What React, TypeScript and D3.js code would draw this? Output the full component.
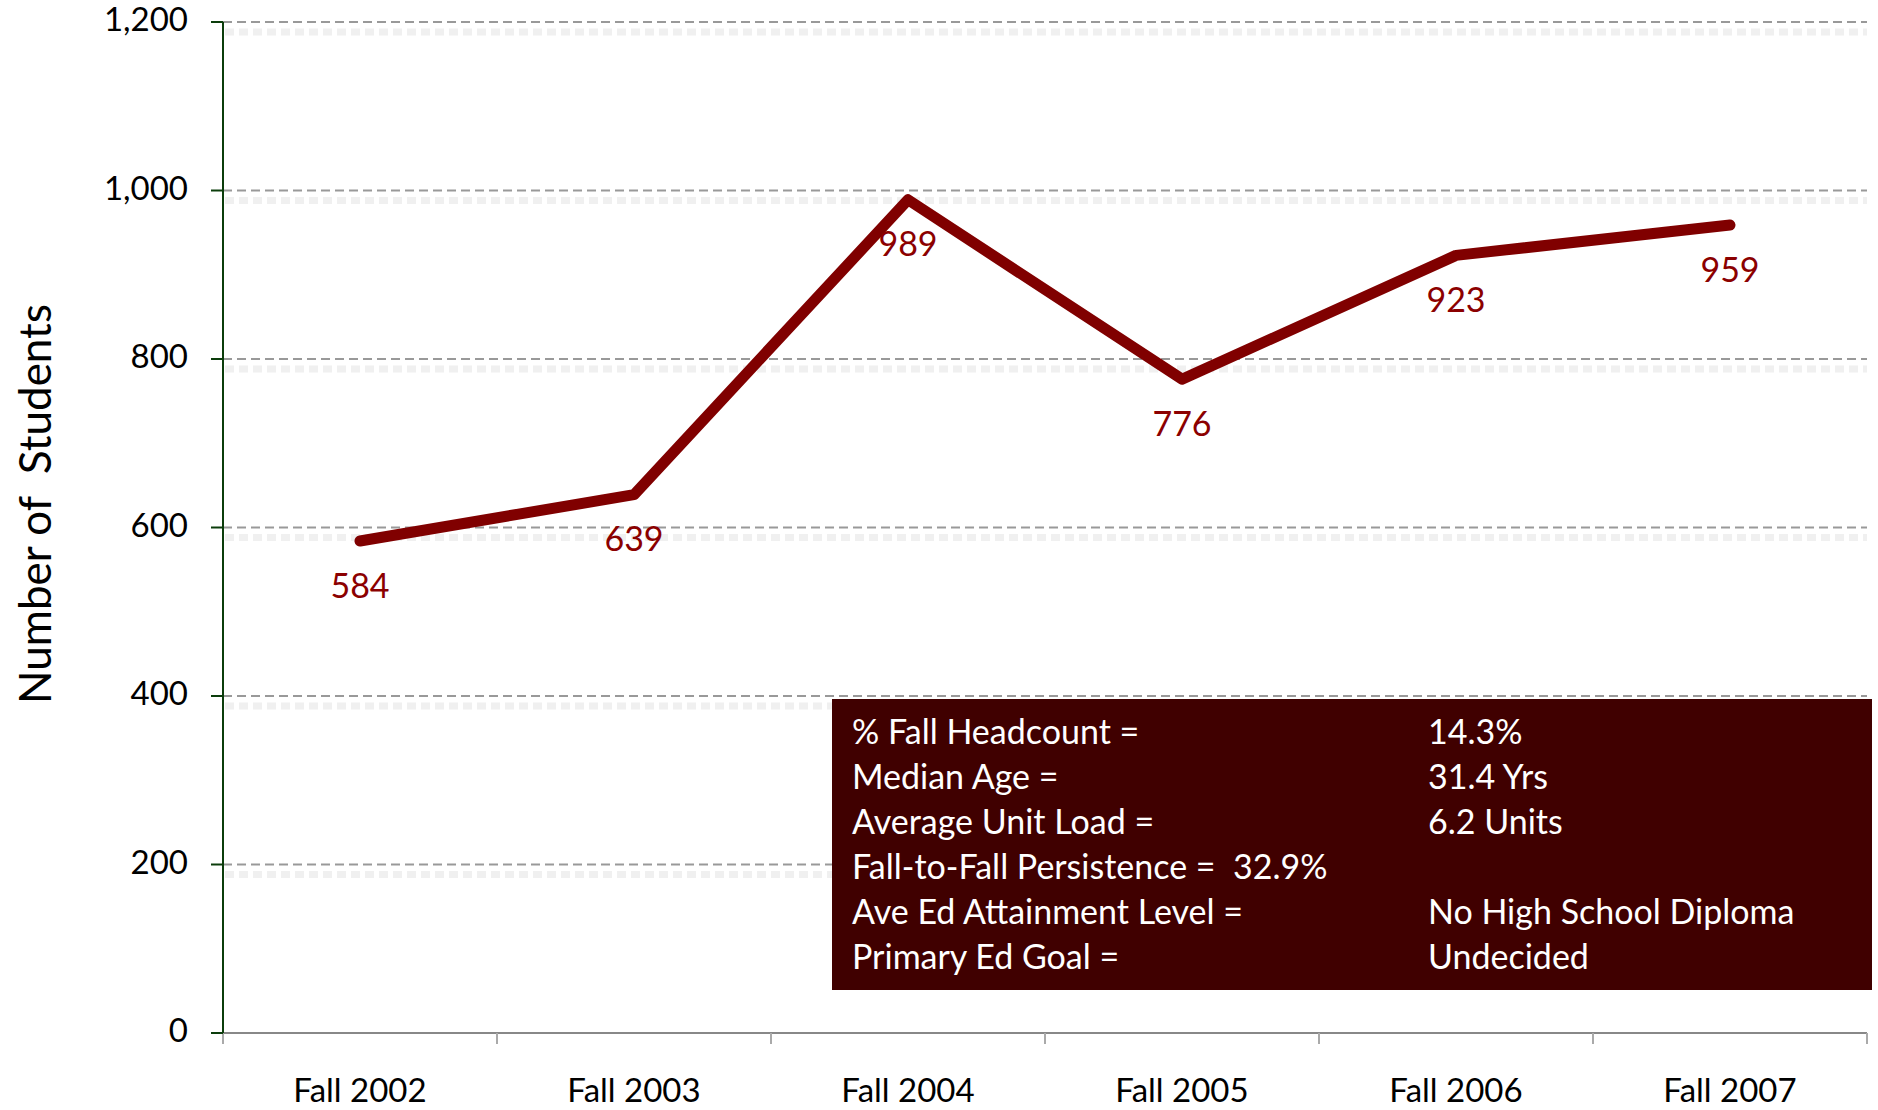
import React from 'react';
import * as d3 from 'd3';

const categories = ['Fall 2002', 'Fall 2003', 'Fall 2004', 'Fall 2005', 'Fall 2006', 'Fall 2007'];
const students = [584, 639, 989, 776, 923, 959];
const yTicks = [0, 200, 400, 600, 800, 1000, 1200];
const infoLabels = [
  '% Fall Headcount =',
  'Median Age =',
  'Average Unit Load =',
  'Fall-to-Fall Persistence =  32.9%',
  'Ave Ed Attainment Level =',
  'Primary Ed Goal =',
];
const infoValues = ['14.3%', '31.4 Yrs', '6.2 Units', '', 'No High School Diploma', 'Undecided'];

const W = 1878;
const H = 1110;
const margin = { top: 22, right: 11, bottom: 77, left: 223 };
const font = 'Lato, "Noto Sans", sans-serif';

const App: React.FC = () => {
  const x = d3
    .scaleBand<string>()
    .domain(categories)
    .range([margin.left, W - margin.right]);
  const y = d3
    .scaleLinear()
    .domain([0, 1200])
    .range([H - margin.bottom, margin.top]);

  const cx = (c: string) => (x(c) as number) + x.bandwidth() / 2;

  const line = d3
    .line<number>()
    .x((_, i) => cx(categories[i]))
    .y((d) => y(d));

  const boundaries = [...categories.map((c) => x(c) as number), W - margin.right];

  // info box sits under the 400 gridline, stretching past the plot
  const boxTop = y(400) + 3;
  const boxLeft = 832;
  const rowStep = 45;

  return (
    <div style={{ position: 'absolute', left: 0, top: 0 }}>
      <svg width={W} height={H} style={{ display: 'block', background: '#fff' }}>
        {/* gridlines with faint shadow */}
        {yTicks.filter((t) => t > 0).map((t) => (
          <g key={t}>
            <line
              x1={margin.left + 2}
              x2={W - margin.right}
              y1={y(t) + 10}
              y2={y(t) + 10}
              stroke="#f0f0f0"
              strokeWidth={7}
              strokeDasharray="9,5"
            />
            <line
              x1={margin.left}
              x2={W - margin.right}
              y1={y(t)}
              y2={y(t)}
              stroke="#999"
              strokeWidth={2}
              strokeDasharray="9,5"
            />
          </g>
        ))}

        {/* x axis */}
        <line
          x1={margin.left}
          x2={W - margin.right}
          y1={y(0)}
          y2={y(0)}
          stroke="#888"
          strokeWidth={2}
        />
        {boundaries.map((b, i) => (
          <line key={i} x1={b} x2={b} y1={y(0)} y2={y(0) + 11} stroke="#aaa" strokeWidth={2} />
        ))}
        {categories.map((c) => (
          <text
            key={c}
            x={cx(c)}
            y={y(0) + 61}
            textAnchor="middle"
            dominantBaseline="middle"
            fontFamily={font}
            fontSize={33}
            fill="#000"
          >
            {c}
          </text>
        ))}

        {/* y axis */}
        <line
          x1={margin.left}
          x2={margin.left}
          y1={y(1200)}
          y2={y(0)}
          stroke="#0b3d0b"
          strokeWidth={2}
        />
        {yTicks.map((t) => (
          <g key={t}>
            <line
              x1={margin.left - 12}
              x2={margin.left}
              y1={y(t)}
              y2={y(t)}
              stroke="#0b3d0b"
              strokeWidth={2}
            />
            <text
              x={188}
              y={y(t) + 1}
              textAnchor="end"
              dominantBaseline="middle"
              fontFamily={font}
              fontSize={33}
              fill="#000"
            >
              {d3.format(',')(t)}
            </text>
          </g>
        ))}
        <text
          transform="translate(40,504) rotate(-90)"
          textAnchor="middle"
          dominantBaseline="middle"
          fontFamily={font}
          fontSize={44}
          fill="#000"
          style={{ whiteSpace: 'pre' }}
        >
          {'Number of  Students'}
        </text>

        {/* info box */}
        <rect x={boxLeft} y={boxTop} width={W - 6 - boxLeft} height={291} fill="#400000" />
        {infoLabels.map((l, i) => (
          <g key={l}>
            <text
              x={852}
              y={boxTop + 36 + i * rowStep}
              dominantBaseline="middle"
              fontFamily={font}
              fontSize={34}
              fill="#fff"
              style={{ whiteSpace: 'pre' }}
            >
              {l}
            </text>
            <text
              x={1428}
              y={boxTop + 36 + i * rowStep}
              dominantBaseline="middle"
              fontFamily={font}
              fontSize={34}
              fill="#fff"
            >
              {infoValues[i]}
            </text>
          </g>
        ))}

        {/* series */}
        <path
          d={line(students) as string}
          fill="none"
          stroke="#800000"
          strokeWidth={11}
          strokeLinecap="round"
          strokeLinejoin="round"
        />
        {students.map((v, i) => (
          <text
            key={i}
            x={cx(categories[i])}
            y={y(v) + 48}
            textAnchor="middle"
            dominantBaseline="middle"
            fontFamily={font}
            fontSize={34}
            fill="#8b0000"
          >
            {v}
          </text>
        ))}
      </svg>
    </div>
  );
};

export default App;
